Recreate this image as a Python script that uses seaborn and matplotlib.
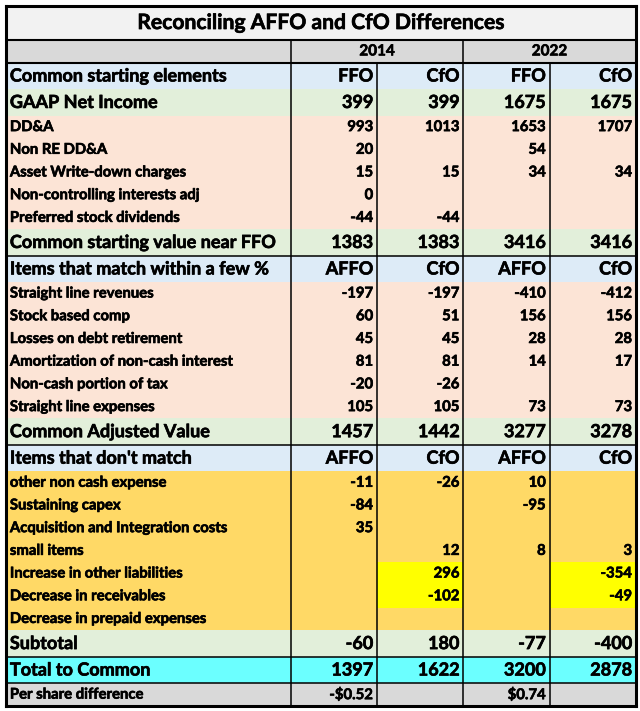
import matplotlib
matplotlib.use("Agg")
import matplotlib.pyplot as plt
import matplotlib.patheffects as pe
import numpy as np
import seaborn as sns
from matplotlib.colors import ListedColormap

title = "Reconciling AFFO and CfO Differences"
years = ["2014", "2022"]

labels = [
    "Common starting elements", "GAAP Net Income", "DD&A", "Non RE DD&A",
    "Asset Write-down charges", "Non-controlling interests adj",
    "Preferred stock dividends", "Common starting value near FFO",
    "Items that match within a few %", "Straight line revenues",
    "Stock based comp", "Losses on debt retirement",
    "Amortization of non-cash interest", "Non-cash portion of tax",
    "Straight line expenses", "Common Adjusted Value",
    "Items that don't match", "other non cash expense", "Sustaining capex",
    "Acquisition and Integration costs", "small items",
    "Increase in other liabilities", "Decrease in receivables",
    "Decrease in prepaid expenses", "Subtotal", "Total to Common",
    "Per share difference",
]
# row style: head = light blue, total = green, item = peach, gold, cyan, gray
kinds = [
    "head", "total", "item", "item", "item", "item", "item", "total",
    "head", "item", "item", "item", "item", "item", "item", "total",
    "head", "gold", "gold", "gold", "gold", "gold", "gold", "gold",
    "total", "cyan", "gray",
]
n = np.nan
ffo_2014 = ["FFO", 399, 993, 20, 15, 0, -44, 1383, "AFFO", -197, 60, 45, 81, -20, 105, 1457,
            "AFFO", -11, -84, 35, n, n, n, n, -60, 1397, "-$0.52"]
cfo_2014 = ["CfO", 399, 1013, n, 15, n, -44, 1383, "CfO", -197, 51, 45, 81, -26, 105, 1442,
            "CfO", -26, n, n, 12, 296, -102, n, 180, 1622, n]
ffo_2022 = ["FFO", 1675, 1653, 54, 34, n, n, 3416, "AFFO", -410, 156, 28, 14, n, 73, 3277,
            "AFFO", 10, -95, n, 8, n, n, n, -77, 3200, "$0.74"]
cfo_2022 = ["CfO", 1675, 1707, n, 34, n, n, 3416, "CfO", -412, 156, 28, 17, n, 73, 3278,
            "CfO", n, n, n, 3, -354, -49, n, -400, 2878, n]
# cells highlighted in bright yellow (row label, column index)
highlight = [("Increase in other liabilities", 2), ("Decrease in receivables", 2),
             ("Increase in other liabilities", 4), ("Decrease in receivables", 4)]

palette = ["#F2F2F2", "#D9D9D9", "#DDEBF7", "#E2EFDA", "#FCE4D6",
           "#FFD966", "#FFFF00", "#6BFFFF", "#D9D9D9"]
kind_idx = {"head": 2, "total": 3, "item": 4, "gold": 5, "cyan": 7, "gray": 8}

# build the colour grid (in row / column units)
col_w = [33, 10, 10, 10, 10]
row_h = [9, 6] + [7 if k in ("head", "total", "cyan") else 6 for k in kinds]
rows = [[0] * 5, [1] * 5]
for lab, k in zip(labels, kinds):
    r = [kind_idx[k]] * 5
    for hl, c in highlight:
        if hl == lab:
            r[c] = 6
    rows.append(r)
grid = np.repeat(np.repeat(np.array(rows), row_h, axis=0), col_w, axis=1)

fig = plt.figure(figsize=(6.4, 7.11), dpi=100)
ax = fig.add_axes([6 / 640, 5 / 711, 630 / 640, 700 / 711])
sns.heatmap(grid, cmap=ListedColormap(palette), vmin=-0.5, vmax=len(palette) - 0.5,
            cbar=False, xticklabels=False, yticklabels=False, ax=ax)

font = "Lato"
# slight stroke so the text looks as heavy as the spreadsheet's bold
heavy = [pe.withStroke(linewidth=0.45, foreground="black")]
y_edges = np.concatenate([[0], np.cumsum(row_h)])
x_edges = np.concatenate([[0], np.cumsum(col_w)])
ymid = (y_edges[:-1] + y_edges[1:]) / 2

ax.text(x_edges[-1] / 2, ymid[0], title, ha="center", va="center",
        fontsize=15.2, fontweight="bold", family=font, path_effects=heavy)
ax.text((x_edges[1] + x_edges[3]) / 2, ymid[1], years[0], ha="center", va="center",
        fontsize=11, fontweight="bold", family=font, path_effects=heavy)
ax.text((x_edges[3] + x_edges[5]) / 2, ymid[1], years[1], ha="center", va="center",
        fontsize=11, fontweight="bold", family=font, path_effects=heavy)


def fmt(v):
    if isinstance(v, str):
        return v
    if v != v:
        return ""
    return f"{int(v)}"


pad = 0.45
for i, (lab, k) in enumerate(zip(labels, kinds)):
    y = ymid[i + 2]
    big = row_h[i + 2] == 7
    fs = 13 if big else 10.7
    ax.text(pad, y, lab, ha="left", va="center", fontsize=fs,
            fontweight="bold", family=font, path_effects=heavy)
    for c, series in enumerate([ffo_2014, cfo_2014, ffo_2022, cfo_2022]):
        ax.text(x_edges[c + 2] - pad, y, fmt(series[i]), ha="right", va="center",
                fontsize=fs, fontweight="bold", family=font, path_effects=heavy)

# borders
lw = 1.1
bottom = y_edges[-1]
for yy in [y_edges[1], y_edges[2]]:
    ax.plot([0, x_edges[-1]], [yy, yy], color="black", lw=1.5)
for lab in ["Common starting value near FFO", "Common Adjusted Value"]:
    j = labels.index(lab) + 2
    ax.plot([0, x_edges[-1]], [y_edges[j + 1]] * 2, color="black", lw=lw)
j = labels.index("Total to Common") + 2
for yy in [y_edges[j], y_edges[j + 1]]:
    ax.plot([0, x_edges[-1]], [yy, yy], color="black", lw=lw)
ax.plot([x_edges[1]] * 2, [y_edges[1], bottom], color="black", lw=lw)
ax.plot([x_edges[3]] * 2, [y_edges[1], bottom], color="black", lw=lw)
for c in [2, 4]:
    ax.plot([x_edges[c]] * 2, [y_edges[2], bottom], color="black", lw=lw)
for s in ax.spines.values():
    s.set_visible(True)
    s.set_linewidth(2.2)
    s.set_color("black")

fig.savefig("out.png", dpi=100, facecolor="white")
